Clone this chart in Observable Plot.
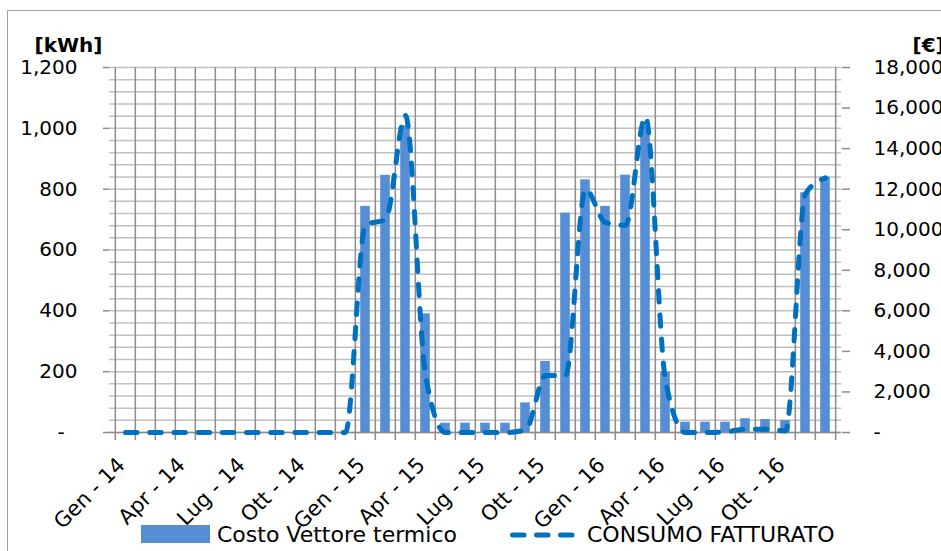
<!DOCTYPE html>
<html>
<head>
<meta charset="utf-8">
<script src="https://cdn.jsdelivr.net/npm/d3@7"></script>
<script src="https://cdn.jsdelivr.net/npm/@observablehq/plot@0.6"></script>
<style>
  html, body { margin: 0; padding: 0; background: white; }
  #chart { position: relative; width: 941px; height: 551px; overflow: hidden; font-family: "DejaVu Sans", sans-serif; }
  #frame { position: absolute; left: 7px; top: 10px; width: 1000px; height: 1000px; border: 1px solid #a0a0a0; pointer-events: none; }
  #legend { position: relative; height: 33px; font-size: 22px; line-height: 22px; color: black; }
  #legend > * { position: absolute; }
</style>
</head>
<body>
<div id="chart">
  <div id="frame"></div>
  <div id="plot"></div>
  <div id="legend">
    <span style="left:141px; top:7px; width:69px; height:18px; background:#558ed5;"></span>
    <span style="left:217px; top:6px;">Costo Vettore termico</span>
    <svg style="left:508px; top:12px;" width="70" height="10">
      <line x1="4.5" x2="64" y1="5" y2="5" stroke="#0070c0" stroke-width="5" stroke-linecap="round" stroke-dasharray="11.5 12.5"></line>
    </svg>
    <span style="left:587px; top:6px;">CONSUMO FATTURATO</span>
  </div>
</div>
<script>
// Monthly billing, Jan 2014 – Dec 2016
const months = [
  "Gen - 14", "Feb - 14", "Mar - 14", "Apr - 14", "Mag - 14", "Giu - 14",
  "Lug - 14", "Ago - 14", "Set - 14", "Ott - 14", "Nov - 14", "Dic - 14",
  "Gen - 15", "Feb - 15", "Mar - 15", "Apr - 15", "Mag - 15", "Giu - 15",
  "Lug - 15", "Ago - 15", "Set - 15", "Ott - 15", "Nov - 15", "Dic - 15",
  "Gen - 16", "Feb - 16", "Mar - 16", "Apr - 16", "Mag - 16", "Giu - 16",
  "Lug - 16", "Ago - 16", "Set - 16", "Ott - 16", "Nov - 16", "Dic - 16"
];

// Costo Vettore termico [€]
const costoEuro = [
  0, 0, 0, 0, 0, 0, 0, 0, 0, 0, 0, 0,
  11150, 12680, 15120, 5850, 460, 460, 460, 460, 1460, 3500, 10820, 12460,
  11150, 12690, 15080, 2980, 510, 510, 510, 680, 640, 590, 11820, 12590
];

// CONSUMO FATTURATO [kWh]
const consumoKwh = [
  0, 0, 0, 0, 0, 0, 0, 0, 0, 0, 0, 0,
  683, 700, 1042, 190, 0, 0, 0, 0, 8, 187, 187, 800,
  690, 681, 1038, 172, 0, 0, 2, 11, 11, 5, 785, 837
];

// Axis ticks
const xTicks = ["Gen - 14", "Apr - 14", "Lug - 14", "Ott - 14", "Gen - 15", "Apr - 15",
                "Lug - 15", "Ott - 15", "Gen - 16", "Apr - 16", "Lug - 16", "Ott - 16"];
const kwhTicks = [0, 200, 400, 600, 800, 1000, 1200];
const euroTicks = [0, 2000, 4000, 6000, 8000, 10000, 12000, 14000, 16000, 18000];
const kwhGrid = d3.range(0, 1201, 40);

// The € axis shares the vertical scale: 18,000 € sits level with 1,200 kWh
const euroPerKwh = 18000 / 1200;

const rows = months.map((month, i) => ({
  month,
  costo: costoEuro[i],
  consumo: consumoKwh[i]
}));

const width = 941, height = 518;
const marginLeft = 109, marginRight = 100, marginTop = 67, marginBottom = 86;
const bandWidth = (width - marginLeft - marginRight) / months.length;

const fmt = d3.format(",");
const leftFormat = (v) => (v === 0 ? "-\u2007" : fmt(v));
const rightFormat = (v) => {
  const e = Math.round(v * euroPerKwh);
  return e === 0 ? "-" : fmt(e);
};

const gridDark = "#8c8c8c";

const chart = Plot.plot({
  width, height, marginLeft, marginRight, marginTop, marginBottom,
  style: {
    fontFamily: "DejaVu Sans, sans-serif",
    fontSize: "20px",
    background: "transparent",
    overflow: "visible",
    color: "black"
  },
  x: { type: "band", domain: months, padding: 0, axis: null },
  y: { domain: [0, 1200], axis: null },
  marks: [
    // horizontal grid every 40 kWh
    Plot.ruleY(kwhGrid, { stroke: "#c0c0c0", strokeWidth: 1.5 }),
    // vertical grid on category boundaries, continuing below as axis ticks
    Plot.ruleX(months, { dx: -bandWidth / 2, insetBottom: -8, stroke: gridDark, strokeWidth: 1.5 }),
    Plot.ruleX([months[months.length - 1]], { dx: bandWidth / 2, insetBottom: -8, stroke: gridDark, strokeWidth: 1.5 }),
    Plot.ruleY([0], { stroke: gridDark, strokeWidth: 1.5 }),
    // cost bars on the € axis
    Plot.barY(rows, {
      x: "month",
      y: (d) => d.costo / euroPerKwh,
      fill: "#558ed5",
      insetLeft: 5.2,
      insetRight: 5.2
    }),
    // billed consumption on the kWh axis
    Plot.line(rows, {
      x: "month",
      y: "consumo",
      stroke: "#0070c0",
      strokeWidth: 5,
      strokeDasharray: "11.5 12.7",
      strokeLinecap: "round",
      strokeLinejoin: "round",
      curve: "monotone-x"
    }),
    Plot.axisY(kwhTicks, {
      anchor: "left", label: null, tickSize: 6, tickPadding: 26,
      stroke: gridDark, strokeWidth: 1.5, tickFormat: leftFormat, fontSize: 20
    }),
    Plot.axisY(euroTicks.map((e) => e / euroPerKwh), {
      anchor: "right", label: null, tickSize: 8, tickPadding: 24,
      stroke: gridDark, strokeWidth: 1.5, tickFormat: rightFormat, fontSize: 20
    }),
    Plot.axisX(xTicks, {
      label: null, tickSize: 0, tickRotate: -45, tickPadding: 29,
      dx: -4, fontSize: 21
    }),
    Plot.text(["[kWh]"], {
      frameAnchor: "top-left", textAnchor: "end", lineAnchor: "middle",
      dx: -7, dy: -22, fontWeight: "bold", fontSize: 20
    }),
    Plot.text(["[€]"], {
      frameAnchor: "top-right", textAnchor: "start", lineAnchor: "middle",
      dx: 71, dy: -22, fontWeight: "bold", fontSize: 20
    })
  ]
});

document.getElementById("plot").appendChild(chart);
</script>
</body>
</html>
